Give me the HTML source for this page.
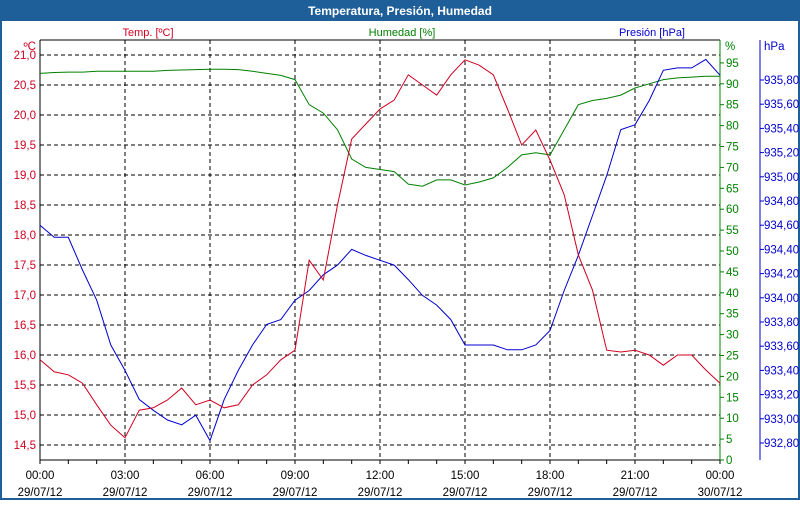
<!DOCTYPE html>
<html><head><meta charset="utf-8"><style>
body{margin:0;width:800px;height:500px;background:#fff;font-family:"Liberation Sans",sans-serif;overflow:hidden}
</style></head><body>
<svg width="800" height="500" font-family="Liberation Sans, sans-serif" font-size="11">
<rect x="0" y="0" width="800" height="500" fill="#1f5f99"/>
<rect x="2" y="21" width="796" height="477" fill="#fff"/>
<text x="400" y="15" fill="#fff" font-weight="bold" font-size="12" text-anchor="middle">Temperatura, Presión, Humedad</text>
<text x="148" y="36" fill="#d00020" text-anchor="middle">Temp. [ºC]</text>
<text x="402" y="36" fill="#008000" text-anchor="middle">Humedad [%]</text>
<text x="685" y="36" fill="#0000d0" text-anchor="end">Presión [hPa]</text>
<g id="grid"></g><g id="axes"></g><g id="series"></g>
</svg>
<script>
const hours=[0,0.5,1,1.5,2,2.5,3,3.5,4,4.5,5,5.5,6,6.5,7,7.5,8,8.5,9,9.5,10,10.5,11,11.5,12,12.5,13,13.5,14,14.5,15,15.5,16,16.5,17,17.5,18,18.5,19,19.5,20,20.5,21,21.5,22,22.5,23,23.5,24];
const temperature=[15.92,15.72,15.67,15.53,15.17,14.83,14.62,15.08,15.12,15.25,15.45,15.17,15.25,15.12,15.17,15.5,15.67,15.92,16.08,17.58,17.25,18.5,19.6,19.85,20.1,20.25,20.67,20.5,20.33,20.67,20.92,20.83,20.67,20.1,19.5,19.75,19.25,18.67,17.67,17.08,16.08,16.05,16.08,16.0,15.83,16.0,16.0,15.75,15.53];
const humidity=[92.5,92.7,92.8,92.8,93,93,93,93,93,93.2,93.3,93.4,93.5,93.5,93.4,93,92.5,92,91,85,83,79,72,70,69.5,69,66,65.5,67,67,65.8,66.5,67.5,70,73,73.5,73,79,85,86,86.5,87.3,89,90,91,91.4,91.6,91.8,91.8];
const pressure=[934.60,934.50,934.50,934.23,933.98,933.61,933.40,933.16,933.07,932.99,932.95,933.03,932.82,933.16,933.40,933.61,933.78,933.82,933.98,934.06,934.19,934.27,934.40,934.35,934.31,934.27,934.15,934.02,933.94,933.82,933.61,933.61,933.61,933.57,933.57,933.61,933.73,934.06,934.35,934.68,935.01,935.39,935.43,935.63,935.88,935.90,935.90,935.97,935.84];
const tempTicks=["14,5","15,0","15,5","16,0","16,5","17,0","17,5","18,0","18,5","19,0","19,5","20,0","20,5","21,0"];
const humTicks=[0,5,10,15,20,25,30,35,40,45,50,55,60,65,70,75,80,85,90,95];
const presTicks=["932,80","933,00","933,20","933,40","933,60","933,80","934,00","934,20","934,40","934,60","934,80","935,00","935,20","935,40","935,60","935,80"];
const timeLabels=["00:00","03:00","06:00","09:00","12:00","15:00","18:00","21:00","00:00"];
const dateLabels=["29/07/12","29/07/12","29/07/12","29/07/12","29/07/12","29/07/12","29/07/12","29/07/12","30/07/12"];
const X0=40,X1=720,Y0=40,Y1=460;
const xS=h=>X0+h*(X1-X0)/24;
const yT=t=>55+(21-t)*60;
const yH=h=>460-h*4.18;
const yP=p=>80+(935.8-p)*121;
const NS="http://www.w3.org/2000/svg";
function mk(tag,parent,attrs){const e=document.createElementNS(NS,tag);for(const k in attrs)e.setAttribute(k,attrs[k]);document.getElementById(parent).appendChild(e);return e;}
tempTicks.forEach((l,i)=>{const t=14.5+i*0.5;const y=yT(t);
 const g=mk('line','grid',{x1:X0,x2:X1,y1:y,y2:y,stroke:'#000','stroke-dasharray':'4,3'});
 
 
 const tx=mk('text','axes',{x:36,y:y+4,fill:'#d00020','text-anchor':'end','font-size':'11.5'});tx.textContent=l;
 
 });
for(let i=1;i<8;i++){const x=xS(i*3);
 const g=mk('line','grid',{x1:x,x2:x,y1:Y0,y2:Y1,stroke:'#000','stroke-dasharray':'4,3'});
 
 }
let a=mk('path','axes',{d:`M${X0},${Y0}V${Y1}H${X1}`,stroke:'#000',fill:'none'});


a=mk('line','axes',{x1:X0,x2:X1,y1:Y0,y2:Y0,stroke:'#000'});


a=mk('line','axes',{x1:X1,x2:X1,y1:Y0,y2:Y1,stroke:'#008000'});


a=mk('line','axes',{x1:760,x2:760,y1:Y0,y2:Y1,stroke:'#0000d0'});


let u=mk('text','axes',{x:36,y:50,fill:'#d00020','text-anchor':'end','font-size':'11.5'});u.textContent='ºC';


u=mk('text','axes',{x:725,y:50,fill:'#008000','font-size':'11.5'});u.textContent='%';


u=mk('text','axes',{x:764,y:50,fill:'#0000d0','font-size':'11.5'});u.textContent='hPa';


for(let i=0;i<=24;i++){const x=xS(i);const tk=mk('line','axes',{x1:x,x2:x,y1:Y1,y2:Y1+4,stroke:'#000'});
 
 }
timeLabels.forEach((l,i)=>{const x=xS(i*3);
 const t=mk('text','axes',{x:x,y:479,'text-anchor':'middle','font-size':'11.5'});t.textContent=l;
 
 
 const d=mk('text','axes',{x:x,y:496,'text-anchor':'middle','font-size':'11.5'});d.textContent=dateLabels[i];
 
 });
humTicks.forEach(h=>{const y=yH(h);
 const tk=mk('line','axes',{x1:X1,x2:X1+4,y1:y,y2:y,stroke:'#008000'});
 
 
 const t=mk('text','axes',{x:726,y:y+4,fill:'#008000','font-size':'11.5'});t.textContent=h;
 
 });
presTicks.forEach((l,i)=>{const y=yP(932.8+i*0.2);
 const tk=mk('line','axes',{x1:760,x2:764,y1:y,y2:y,stroke:'#0000d0'});
 
 
 const t=mk('text','axes',{x:764,y:y+4,fill:'#0000d0','font-size':'11.5'});t.textContent=l;
 
 });
function line(vals,yf,color,name){const d=vals.map((v,i)=>(i?'L':'M')+xS(hours[i]).toFixed(1)+','+yf(v).toFixed(1)).join('');
 const p=mk('path','series',{d:d,stroke:color,fill:'none','stroke-width':'1'});
 
 }
line(humidity,yH,'#008000','humidity-line');
line(pressure,yP,'#0000d0','pressure-line');
line(temperature,yT,'#d00020','temperature-line');
</script>
</body></html>
